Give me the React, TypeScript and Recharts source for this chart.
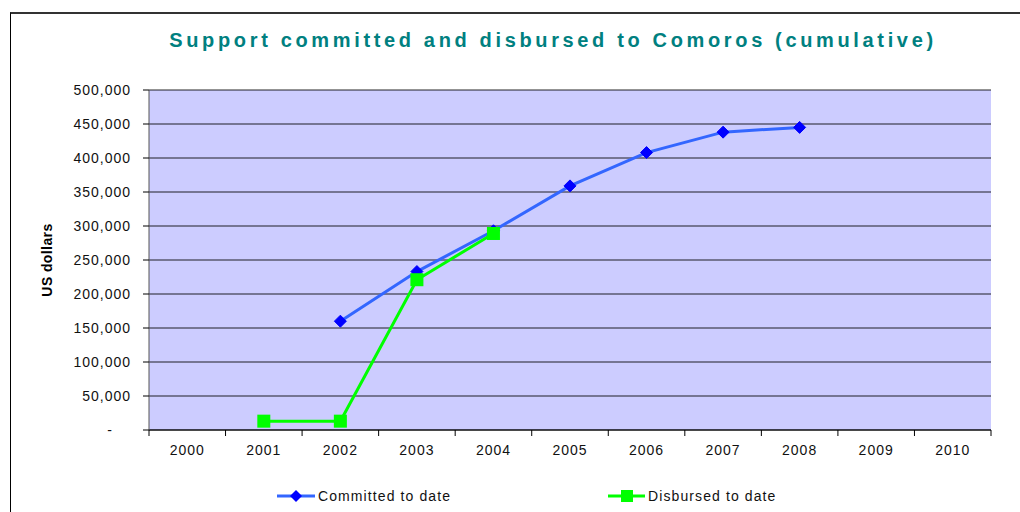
import React from 'react';
import { LineChart, Line, XAxis, YAxis, CartesianGrid } from 'recharts';

const years = [2000, 2001, 2002, 2003, 2004, 2005, 2006, 2007, 2008, 2009, 2010];
const committed: (number | null)[] = [null, null, 160000, 233000, 293000, 359000, 408000, 438000, 445000, null, null];
const disbursed: (number | null)[] = [null, 13000, 13000, 221000, 289000, null, null, null, null, null, null];
const yTicks = [0, 50000, 100000, 150000, 200000, 250000, 300000, 350000, 400000, 450000, 500000];
const boundaries = [1999.5, 2000.5, 2001.5, 2002.5, 2003.5, 2004.5, 2005.5, 2006.5, 2007.5, 2008.5, 2009.5, 2010.5];
const titleText = 'Support committed and disbursed to Comoros (cumulative)';
const seriesNames = ['Committed to date', 'Disbursed to date'];

const data = years.map((y, i) => ({ year: y, committed: committed[i], disbursed: disbursed[i] }));
const xTicks = [...boundaries, ...years].sort((a, b) => a - b);

const FONT = 'Arial, "Liberation Sans", sans-serif';
const COMMITTED_LINE = '#3366FF';
const COMMITTED_MARK = '#0000FF';
const DISB = '#00FF00';
const X_TICK_SIZE = 6;
const X_TICK_MARGIN = 9;

const Diamond = (props: any) => {
  const { cx, cy, value } = props;
  if (value == null || cx == null || cy == null) return null;
  const r = 6;
  return <path d={`M${cx},${cy - r}L${cx + r},${cy}L${cx},${cy + r}L${cx - r},${cy}Z`} fill={COMMITTED_MARK} stroke={COMMITTED_MARK} strokeWidth={1} />;
};

const Square = (props: any) => {
  const { cx, cy, value } = props;
  if (value == null || cx == null || cy == null) return null;
  const s = 6.5;
  return <rect x={cx - s} y={cy - s} width={2 * s} height={2 * s} fill={DISB} />;
};

const YTick = (props: any) => {
  const { x, y, payload } = props;
  const v = payload.value as number;
  const label = v === 0 ? '-' : v.toLocaleString('en-US');
  return (
    <text x={v === 0 ? x - 18 : x} y={y} dy="0.35em" textAnchor="end" fontSize={14} fill="#111" fontFamily={FONT} style={{ letterSpacing: 1 }}>
      {label}
    </text>
  );
};

// integer ticks -> year labels; half ticks -> category-boundary tick marks
const XTick = (props: any) => {
  const { x, y, payload } = props;
  const v = payload.value as number;
  if (!Number.isInteger(v)) {
    const top = y - X_TICK_SIZE - X_TICK_MARGIN;
    return <line x1={x} x2={x} y1={top} y2={top + X_TICK_SIZE} stroke="#000" strokeWidth={1} />;
  }
  return (
    <text x={x} y={y} dy="0.71em" textAnchor="middle" fontSize={14} fill="#111" fontFamily={FONT} style={{ letterSpacing: 1 }}>
      {v}
    </text>
  );
};

export default function App() {
  return (
    <div style={{ position: 'relative', width: 1020, height: 512, background: '#fff', overflow: 'hidden' }}>
      <style>{`body{margin:0;}`}</style>
      <div style={{ position: 'absolute', left: 10, top: 12, right: 0, bottom: 0, borderTop: '2px solid #333', borderLeft: '1px solid #000' }} />
      <div
        style={{
          position: 'absolute',
          left: 553,
          top: 30,
          transform: 'translateX(-50%)',
          whiteSpace: 'nowrap',
          fontFamily: FONT,
          fontWeight: 'bold',
          fontSize: 20,
          lineHeight: '20px',
          letterSpacing: 3.65,
          color: '#008080',
        }}
      >
        {titleText}
      </div>
      <div style={{ position: 'absolute', left: 0, top: 0 }}>
        <LineChart width={1020} height={512} data={data} margin={{ top: 90, right: 29, left: 0, bottom: 52 }}>
          <CartesianGrid vertical={false} stroke="#000" fill="#CCCCFF" strokeOpacity={0.85} />
          <XAxis
            dataKey="year"
            type="number"
            domain={[1999.5, 2010.5]}
            ticks={xTicks}
            interval={0}
            height={30}
            tickLine={false}
            axisLine={{ stroke: '#000' }}
            tickSize={X_TICK_SIZE}
            tickMargin={X_TICK_MARGIN}
            tick={<XTick />}
            allowDataOverflow
          />
          <YAxis
            domain={[0, 500000]}
            ticks={yTicks}
            interval={0}
            width={149}
            tickSize={6}
            tickMargin={12}
            tick={<YTick />}
            axisLine={{ stroke: '#555' }}
            tickLine={{ stroke: '#000' }}
            label={{ value: 'US dollars', angle: -90, position: 'insideLeft', offset: 47, style: { textAnchor: 'middle', fontFamily: FONT, fontWeight: 'bold', fontSize: 14, letterSpacing: 0.4, fill: '#000' } }}
          />
          <YAxis yAxisId="r" orientation="right" domain={[0, 500000]} width={0} tick={false} tickLine={false} axisLine={{ stroke: '#888' }} />
          <Line dataKey="committed" stroke={COMMITTED_LINE} strokeWidth={3} dot={<Diamond />} activeDot={false} isAnimationActive={false} connectNulls={false} />
          <Line dataKey="disbursed" stroke={DISB} strokeWidth={3} dot={<Square />} activeDot={false} isAnimationActive={false} connectNulls={false} />
        </LineChart>
      </div>
      <svg style={{ position: 'absolute', left: 0, top: 480 }} width={1020} height={30}>
        <g>
          <line x1={277} x2={315} y1={16} y2={16} stroke={COMMITTED_LINE} strokeWidth={3} />
          <path d="M296,10L302,16L296,22L290,16Z" fill={COMMITTED_MARK} />
          <text x={318} y={21} fontSize={14} fontFamily={FONT} fill="#111" style={{ letterSpacing: 1.1 }}>{seriesNames[0]}</text>
        </g>
        <g>
          <line x1={608} x2={645} y1={16} y2={16} stroke={DISB} strokeWidth={3} />
          <rect x={621} y={10} width={12} height={12} fill={DISB} />
          <text x={648} y={21} fontSize={14} fontFamily={FONT} fill="#111" style={{ letterSpacing: 1.1 }}>{seriesNames[1]}</text>
        </g>
      </svg>
    </div>
  );
}
